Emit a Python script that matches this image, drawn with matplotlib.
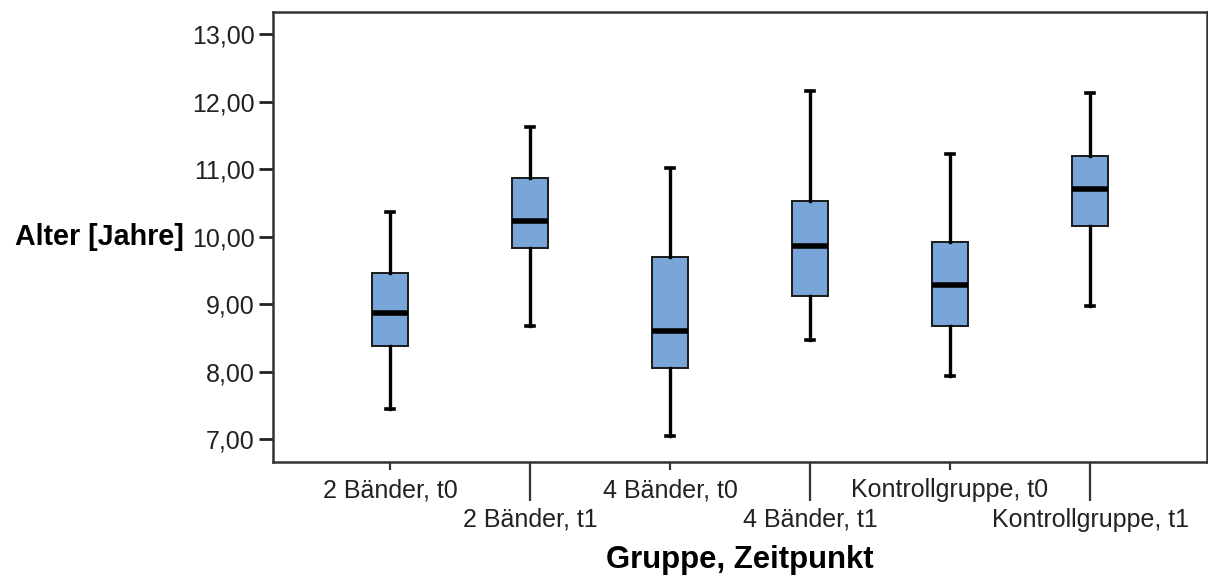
import matplotlib
matplotlib.use("Agg")
import matplotlib.pyplot as plt

# Age distribution per group and time point (years)
groups = ["2 Bänder, t0", "2 Bänder, t1", "4 Bänder, t0",
          "4 Bänder, t1", "Kontrollgruppe, t0", "Kontrollgruppe, t1"]
whisker_low = [7.44, 8.67, 7.04, 8.47, 7.93, 8.97]
q1 = [8.38, 9.83, 8.05, 9.12, 8.67, 10.16]
median = [8.87, 10.23, 8.60, 9.86, 9.28, 10.71]
q3 = [9.46, 10.86, 9.70, 10.53, 9.92, 11.20]
whisker_high = [10.36, 11.62, 11.01, 12.16, 11.22, 12.12]

y_ticks = [7, 8, 9, 10, 11, 12, 13]
y_tick_labels = ["7,00", "8,00", "9,00", "10,00", "11,00", "12,00", "13,00"]

plt.rcParams["font.family"] = ["Liberation Sans", "DejaVu Sans"]

fig = plt.figure(figsize=(12.08, 5.77), dpi=100)
ax = fig.add_axes([0.226, 0.1993, 0.7732, 0.7799])

stats = []
for i in range(len(groups)):
    stats.append(dict(whislo=whisker_low[i], q1=q1[i], med=median[i],
                      q3=q3[i], whishi=whisker_high[i], fliers=[]))

positions = list(range(len(groups)))
ax.bxp(stats, positions=positions, widths=0.257, patch_artist=True,
       showfliers=False,
       boxprops=dict(facecolor="#79A5D8", edgecolor="#1a1a1a", linewidth=1.4),
       medianprops=dict(color="black", linewidth=4.0, solid_capstyle="butt"),
       whiskerprops=dict(color="black", linewidth=2.4),
       capprops=dict(color="black", linewidth=2.6),
       capwidths=0.055)

ax.set_xlim(-0.836, 5.836)
ax.set_ylim(6.66, 13.326)

# y axis
ax.set_yticks(y_ticks, labels=y_tick_labels)
ax.tick_params(axis="y", length=10, width=2, pad=3, labelsize=18,
               color="#222222", labelcolor="#222222")

# x axis: t0 labels on first row with short ticks, t1 labels on second row with long ticks
ax.set_xticks(positions[0::2], labels=groups[0::2])
ax.set_xticks(positions[1::2], labels=groups[1::2], minor=True)
ax.tick_params(axis="x", which="major", length=5.8, width=1.6, pad=6,
               labelsize=18, color="#333333", labelcolor="#222222")
ax.tick_params(axis="x", which="minor", length=28, width=1.6, pad=5,
               labelsize=18, color="#333333", labelcolor="#222222")

for side in ["left", "bottom", "top", "right"]:
    ax.spines[side].set_linewidth(1.8)
    ax.spines[side].set_color("#333333")

ax.set_ylabel("Alter [Jahre]", rotation=0, fontsize=20.6, fontweight="bold",
              ha="right", va="center")
ax.yaxis.set_label_coords(-0.0953, 0.501)

ax.set_xlabel("Gruppe, Zeitpunkt", fontsize=22.4, fontweight="bold", va="top")
ax.xaxis.set_label_coords(0.5, -0.184)

fig.savefig("out.png", dpi=100)
